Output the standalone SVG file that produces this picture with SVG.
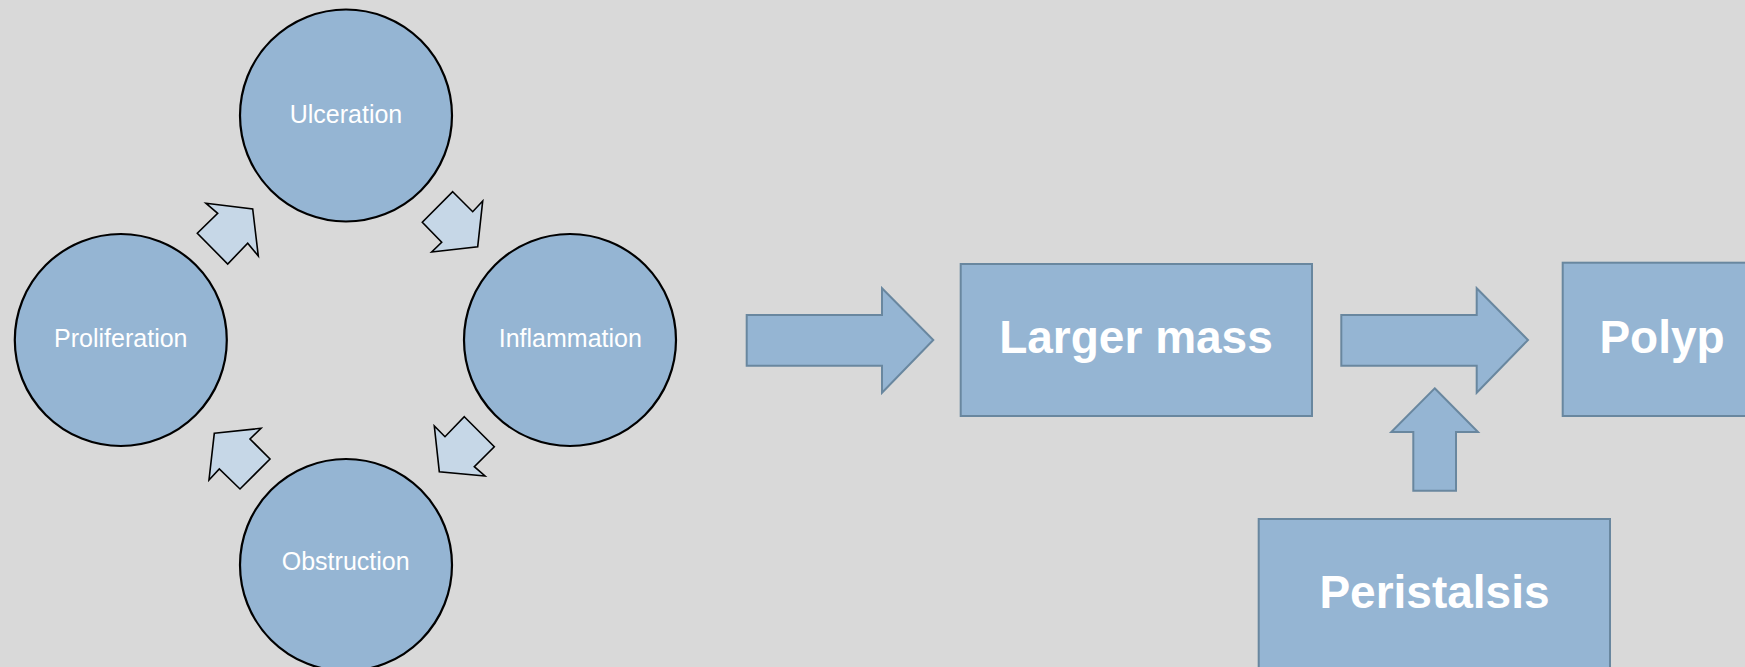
<svg xmlns="http://www.w3.org/2000/svg" width="1745" height="667" viewBox="0 0 1745 667">
<style>
.circ{fill:#95b5d3;stroke:#000;stroke-width:2.2}
.cyc{fill:#c6d7e7;stroke:#000;stroke-width:1.6;stroke-linejoin:miter}
.box{fill:#95b5d3;stroke:#69879f;stroke-width:2}
.big{fill:#95b5d3;stroke:#69879f;stroke-width:2;stroke-linejoin:miter}
.ct{font-family:"Liberation Sans",Arial,sans-serif;font-size:25px;fill:#fff;text-anchor:middle}
.bt{font-family:"Liberation Sans",Arial,sans-serif;font-size:46px;font-weight:bold;fill:#fff;text-anchor:middle}
</style>
<rect width="1745" height="667" fill="#d9d9d9"/>
<g id="connectors">
<polygon class="cyc" points="206,203.3 252.7,209 258.3,256 247.7,243.3 227.7,264 197.3,233.3 217.7,213.3"/>
<polygon class="cyc" points="452.7,191.7 472.7,211.7 482.7,201 477.7,246.7 431.7,252 441.7,242.3 422.3,222.3"/>
<polygon class="cyc" points="464.3,416.7 494.3,446.7 474.3,466.7 485,476 439.3,471.7 434.3,426 445,436.7"/>
<polygon class="cyc" points="214.3,433.3 261,428.3 250,439 270,459 240,489 219.3,469 209,480"/>
<polygon class="big" points="746.7,315 882,315 882,288.3 933.3,340 882,392.7 882,365.7 746.7,365.7"/>
<polygon class="big" points="1341.3,315 1476.7,315 1476.7,288.3 1528,340 1476.7,392.7 1476.7,365.7 1341.3,365.7"/>
<polygon class="big" points="1434.7,388.3 1478,432 1456,432 1456,490.7 1413.3,490.7 1413.3,432 1391.3,432"/>
</g>
<g id="ulceration"><circle class="circ" cx="346" cy="115.5" r="106"/><text class="ct" x="346" y="122.5">Ulceration</text></g>
<g id="proliferation"><circle class="circ" cx="120.8" cy="340" r="106"/><text class="ct" x="120.8" y="346.7">Proliferation</text></g>
<g id="inflammation"><circle class="circ" cx="570" cy="340" r="106"/><text class="ct" x="570.3" y="346.7">Inflammation</text></g>
<g id="obstruction"><circle class="circ" cx="346" cy="565" r="106"/><text class="ct" x="345.7" y="570">Obstruction</text></g>
<g id="larger-mass"><rect class="box" x="960.7" y="264" width="351.3" height="152"/><text class="bt" x="1136" y="353.3">Larger mass</text></g>
<g id="polyp"><rect class="box" x="1562.7" y="262.7" width="200" height="153.3"/><text class="bt" x="1662" y="353.3">Polyp</text></g>
<g id="peristalsis"><rect class="box" x="1258.7" y="519" width="351.3" height="160"/><text class="bt" x="1434.5" y="607.7">Peristalsis</text></g>
</svg>
